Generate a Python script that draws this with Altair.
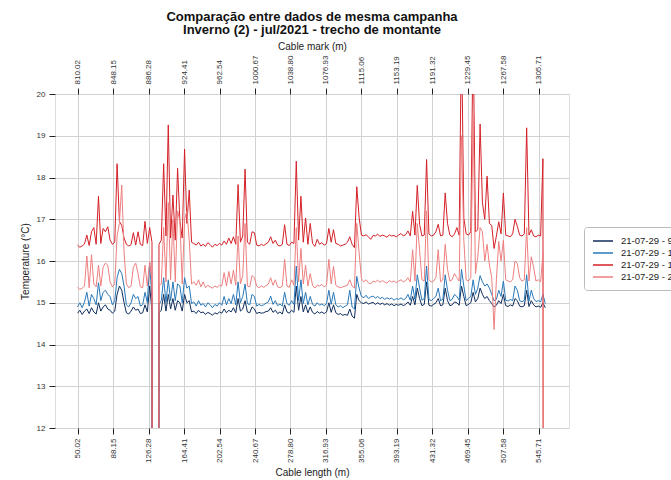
import altair as alt
import pandas as pd

# DTS temperature traces, one sample every 2.5 m of cable starting at 50 m
START_M = 50.0
STEP_M = 2.5
MARK_OFFSET = 760.0  # cable mark = cable length + offset

series_names = [
    "21-07-29 - 9h00",
    "21-07-29 - 13h00",
    "21-07-29 - 17h00",
    "21-07-29 - 22h00",
]
series_colors = ["#0f2d5c", "#2878b8", "#d42027", "#ee7f7f"]

temp_09h = [
    14.75, 14.82, 14.72, 14.80, 14.85, 14.74, 14.88, 14.78, 14.73, 15.00,
    14.80, 14.90, 14.95, 14.85, 14.82, 14.75, 14.80, 15.20, 15.40, 15.30,
    15.00, 14.76, 14.73, 14.80, 14.90, 14.82, 14.85, 14.74, 14.76, 14.95,
    14.78, 15.40, 14.80, -60.0, -60.0, 14.76, 14.82, 15.20, 14.80, 15.20,
    14.85, 15.10, 14.82, 15.05, 15.00, 14.80, 15.20, 15.00, 15.05, 14.78,
    14.80, 14.74, 14.82, 14.76, 14.78, 14.72, 14.77, 14.74, 14.70, 14.76,
    14.73, 14.78, 14.75, 14.85, 14.76, 14.82, 14.78, 14.88, 14.76, 15.10,
    14.80, 14.85, 15.05, 14.78, 14.76, 14.90, 14.85, 14.74, 14.77, 14.75,
    14.76, 14.79, 14.80, 14.88, 14.77, 14.82, 14.74, 14.78, 14.73, 14.95,
    14.78, 14.75, 14.82, 14.77, 15.40, 14.82, 15.15, 14.78, 14.95, 14.76,
    14.90, 14.77, 14.73, 14.79, 14.75, 14.78, 14.74, 14.78, 15.00, 14.77,
    14.95, 14.76, 14.72, 14.74, 14.70, 14.72, 14.70, 14.85, 14.68, 14.63,
    15.20, 15.05, 15.00, 14.98, 15.02, 14.97, 14.99, 15.01, 14.96, 15.00,
    14.96, 14.99, 14.95, 14.98, 14.94, 14.97, 14.93, 14.96, 14.94, 14.97,
    14.93, 14.96, 15.02, 14.94, 15.15, 14.95, 15.35, 15.10, 14.93, 14.96,
    15.50, 14.94, 14.92, 14.96, 15.00, 15.10, 14.93, 14.95, 15.35, 15.05,
    14.93, 14.95, 15.02, 15.00, 14.94, 15.40, 15.15, 14.93, 14.96, 15.00,
    15.25, 15.02, 15.10, 15.35, 15.20, 15.10, 15.15, 15.05, 14.98, 14.90,
    14.94, 15.05, 14.98, 15.20, 14.93, 14.91, 14.95, 14.92, 15.10, 15.05,
    14.92, 14.90, 14.93, 15.30, 14.91, 15.05, 14.95, 14.90, 14.92, 14.89,
    15.00, 14.88,
]

temp_13h = [
    14.90, 15.00, 14.88, 15.02, 15.25, 14.92, 15.20, 15.10, 14.95, 15.48,
    15.05, 15.25, 15.30, 15.20, 15.15, 14.95, 15.05, 15.60, 15.80, 15.70,
    15.40, 14.95, 14.90, 15.00, 15.20, 15.10, 15.15, 14.92, 14.95, 15.25,
    15.00, 15.96, 15.05, -60.0, -60.0, 14.95, 15.05, 15.60, 15.00, 15.55,
    15.05, 15.50, 15.05, 15.45, 15.40, 15.00, 15.60, 15.35, 15.40, 14.98,
    15.02, 14.92, 15.05, 14.94, 14.98, 14.90, 15.00, 14.95, 14.88, 14.96,
    14.92, 15.00, 14.94, 15.15, 14.95, 15.10, 14.98, 15.20, 14.95, 15.50,
    15.00, 15.15, 15.45, 14.98, 14.95, 15.20, 15.15, 14.92, 14.96, 14.93,
    14.95, 14.99, 15.02, 15.16, 14.96, 15.05, 14.93, 14.97, 14.92, 15.25,
    14.98, 14.94, 15.05, 14.96, 15.88, 15.05, 15.55, 14.98, 15.25, 14.95,
    15.15, 14.96, 14.92, 15.00, 14.94, 14.97, 14.93, 14.98, 15.30, 14.96,
    15.25, 14.95, 14.90, 14.93, 14.88, 14.92, 14.95, 15.30, 14.90, 14.85,
    15.63, 15.35, 15.15, 15.12, 15.18, 15.10, 15.14, 15.16, 15.11, 15.15,
    15.10, 15.13, 15.08, 15.12, 15.09, 15.11, 15.06, 15.10, 15.08, 15.12,
    15.07, 15.10, 15.20, 15.06, 15.40, 15.08, 15.67, 15.35, 15.06, 15.10,
    15.88, 15.08, 15.05, 15.10, 15.15, 15.35, 15.05, 15.08, 15.67, 15.30,
    15.05, 15.08, 15.20, 15.15, 15.06, 15.80, 15.40, 15.05, 15.10, 15.15,
    15.55, 15.20, 15.35, 15.65, 15.50, 15.40, 15.45, 15.35, 15.20, 15.05,
    15.08, 15.30, 15.15, 15.52, 15.06, 15.04, 15.08, 15.05, 15.40, 15.30,
    15.05, 15.02, 15.06, 15.67, 15.04, 15.30, 15.10, 15.03, 15.05, 15.02,
    15.20, 14.98,
]

temp_17h = [
    16.38, 16.33, 16.36, 16.41, 16.62, 16.37, 16.70, 16.80, 16.40, 17.55,
    16.42, 16.78, 16.70, 16.82, 16.50, 16.40, 16.45, 18.33, 16.95, 16.85,
    16.55, 16.40, 16.36, 16.39, 16.68, 16.38, 16.70, 16.40, 16.37, 16.95,
    16.42, 16.80, 16.45, -60.0, -60.0, 16.40, 16.50, 18.33, 16.60, 19.26,
    16.55, 17.58, 16.50, 18.22, 16.95, 16.55, 18.68, 16.90, 17.70, 16.45,
    16.42, 16.38, 16.45, 16.36, 16.40, 16.35, 16.44, 16.39, 16.33, 16.40,
    16.37, 16.42, 16.38, 16.48, 16.40, 16.55, 16.42, 16.58, 16.40, 17.83,
    16.45, 16.60, 18.20, 16.45, 16.40, 16.70, 16.68, 16.38, 16.36, 16.40,
    16.37, 16.41, 16.45, 16.58, 16.42, 16.50, 16.38, 16.36, 16.40, 16.87,
    16.40, 16.37, 16.45, 16.42, 18.39, 16.50, 17.55, 16.45, 17.03, 16.40,
    16.90, 16.42, 16.35, 16.52, 16.40, 16.44, 16.38, 16.42, 16.78, 16.45,
    16.75, 16.42, 16.40, 16.36, 16.38, 16.40, 16.45, 16.58, 16.40, 16.32,
    17.78, 17.05, 16.62, 16.60, 16.63, 16.58, 16.52, 16.61, 16.60, 16.64,
    16.59, 16.62, 16.60, 16.57, 16.63, 16.60, 16.61, 16.58, 16.62, 16.66,
    16.60, 16.63, 16.72, 16.60, 17.19, 16.62, 17.81, 16.88, 16.60, 16.62,
    18.43, 16.65, 16.60, 16.62, 16.70, 16.88, 16.60, 16.62, 17.63, 16.90,
    16.62, 16.58, 16.65, 16.80, 16.62, 21.50, 17.03, 16.65, 16.62, 16.70,
    21.50, 16.70, 16.75, 19.28, 17.40, 17.00, 18.03, 16.90, 16.85, 16.30,
    16.60, 16.94, 16.65, 17.63, 16.62, 16.60, 16.58, 16.65, 17.00, 16.83,
    16.62, 16.60, 16.65, 19.19, 16.62, 16.75, 16.60, 16.58, 16.62, 16.60,
    18.45, -60.0,
]

temp_22h = [
    15.37, 15.32, 15.35, 15.40, 16.12, 15.36, 16.15, 15.45, 15.38, 15.90,
    15.40, 15.85, 15.95, 15.90, 15.50, 15.38, 15.45, 16.60, 16.90, 17.82,
    16.20, 15.45, 15.36, 15.40, 15.85, 15.95, 15.70, 15.38, 15.36, 15.90,
    15.40, 15.98, 15.50, -60.0, -60.0, 15.40, 15.45, 16.80, 15.50, 17.40,
    15.55, 17.00, 15.50, 17.20, 16.95, 15.45, 17.00, 17.20, 16.50, 15.45,
    15.50, 15.42, 15.55, 15.38, 15.50, 15.36, 15.42, 15.38, 15.35, 15.40,
    15.37, 15.42, 15.40, 15.72, 15.40, 15.75, 15.45, 15.78, 15.42, 16.60,
    15.45, 15.65, 16.90, 15.40, 15.38, 15.65, 15.60, 15.40, 15.36, 15.40,
    15.37, 15.41, 15.45, 15.60, 15.42, 15.55, 15.38, 15.36, 15.40, 16.04,
    15.40, 15.37, 15.55, 15.42, 16.80, 15.50, 16.30, 15.45, 15.90, 15.40,
    15.70, 15.42, 15.35, 15.42, 15.40, 15.44, 15.38, 15.42, 16.04, 15.45,
    15.87, 15.42, 15.38, 15.36, 15.38, 15.40, 15.42, 15.55, 15.40, 15.35,
    16.90, 16.20, 15.58, 15.50, 15.55, 15.48, 15.45, 15.52, 15.50, 15.54,
    15.49, 15.53, 15.50, 15.47, 15.53, 15.50, 15.52, 15.48, 15.52, 15.55,
    15.50, 15.53, 15.60, 15.50, 16.27, 15.52, 16.90, 16.25, 15.55, 15.52,
    17.20, 15.55, 15.50, 15.52, 15.60, 16.27, 15.50, 15.55, 16.40, 15.80,
    15.52, 15.55, 15.70, 15.60, 15.52, 19.00, 16.50, 15.55, 15.52, 15.60,
    19.50, 15.70, 16.10, 16.80, 16.70, 16.00, 16.40, 15.90, 15.60, 14.36,
    15.55, 16.47, 16.00, 16.50, 15.55, 15.52, 15.50, 15.55, 16.00, 15.94,
    15.60, 15.52, 15.55, 16.80, 15.52, 16.10, 15.85, 15.52, 15.55, 15.50,
    16.20, -60.0,
]

length_ticks = [50.02, 88.15, 126.28, 164.41, 202.54, 240.67, 278.80,
                316.93, 355.06, 393.19, 431.32, 469.45, 507.58, 545.71]
mark_ticks = [810.02, 848.15, 886.28, 924.41, 962.54, 1000.67, 1038.80,
              1076.93, 1115.06, 1153.19, 1191.32, 1229.45, 1267.58, 1305.71]
temp_ticks = [12, 13, 14, 15, 16, 17, 18, 19, 20]

length_domain = [25.8, 578.0]
mark_domain = [length_domain[0] + MARK_OFFSET, length_domain[1] + MARK_OFFSET]

FONT = "Liberation Sans"

frames = []
for name, values in zip(series_names, [temp_09h, temp_13h, temp_17h, temp_22h]):
    frames.append(pd.DataFrame({
        "length": [START_M + STEP_M * k for k in range(len(values))],
        "temp": values,
        "series": name,
    }))
df = pd.concat(frames, ignore_index=True)

lines = alt.Chart(df).mark_line(clip=True, strokeWidth=1).encode(
    x=alt.X(
        "length:Q",
        scale=alt.Scale(domain=length_domain, nice=False, zero=False),
        axis=alt.Axis(
            title="Cable length (m)", values=length_ticks, format=".2f",
            labelAngle=270, labelFontSize=8, labelColor="#333333",
            labelPadding=4, tickSize=6, tickColor="#222222",
            domain=False, grid=True, gridColor="#d2d2d2",
            titleFontSize=10, titleFontWeight="normal", titleColor="#222222",
            titlePadding=5, labelFont=FONT, titleFont=FONT,
        ),
    ),
    y=alt.Y(
        "temp:Q",
        scale=alt.Scale(domain=[12, 20], nice=False, zero=False),
        axis=alt.Axis(
            title="Temperature (°C)", values=temp_ticks, format="d",
            labelFontSize=8, labelColor="#333333", labelPadding=4,
            tickSize=6, tickColor="#222222", domain=False, grid=True,
            gridColor="#d2d2d2", titleFontSize=10, titleFontWeight="normal",
            titleColor="#222222", titlePadding=6, labelFont=FONT,
            titleFont=FONT,
        ),
    ),
    color=alt.Color(
        "series:N",
        scale=alt.Scale(domain=series_names, range=series_colors),
        legend=alt.Legend(
            title=None, orient="none", legendX=529, legendY=133,
            symbolType="M-1,0H3", symbolSize=100, symbolStrokeWidth=1.5,
            labelFontSize=9.5, labelFont=FONT, labelColor="#222222",
            labelOffset=17, rowPadding=1, padding=8,
            strokeColor="#bbbbbb", fillColor="white", cornerRadius=3,
        ),
    ),
    detail="series:N",
)

top_axis = alt.Chart(pd.DataFrame({"mark": mark_ticks, "temp": 12})).mark_point(
    opacity=0
).encode(
    x=alt.X(
        "mark:Q",
        scale=alt.Scale(domain=mark_domain, nice=False, zero=False),
        axis=alt.Axis(
            orient="top", title="Cable mark (m)", values=mark_ticks,
            format=".2f", labelAngle=270, labelFontSize=8,
            labelColor="#333333", labelPadding=4, tickSize=6,
            tickColor="#222222", domain=False, grid=False,
            titleFontSize=10, titleFontWeight="normal", titleColor="#222222",
            titlePadding=4, labelFont=FONT, titleFont=FONT,
        ),
    ),
    y=alt.Y("temp:Q", scale=alt.Scale(domain=[12, 20], nice=False, zero=False)),
)

chart = alt.layer(lines, top_axis).resolve_scale(x="independent").properties(
    width=514,
    height=334,
    autosize=alt.AutoSizeParams(type="none"),
    padding={"left": 55, "top": 94, "right": 102, "bottom": 52},
    title=alt.TitleParams(
        text=["Comparação entre dados de mesma campanha",
              "Inverno (2) - jul/2021 - trecho de montante"],
        fontSize=13, fontWeight="bold", font=FONT, color="#111111",
        anchor="middle", lineHeight=13.5, offset=4,
    ),
).configure_view(stroke="#222222", strokeWidth=1.2).configure(background="white")

chart.save("out.html", embed_options={"renderer": "svg", "actions": False})
